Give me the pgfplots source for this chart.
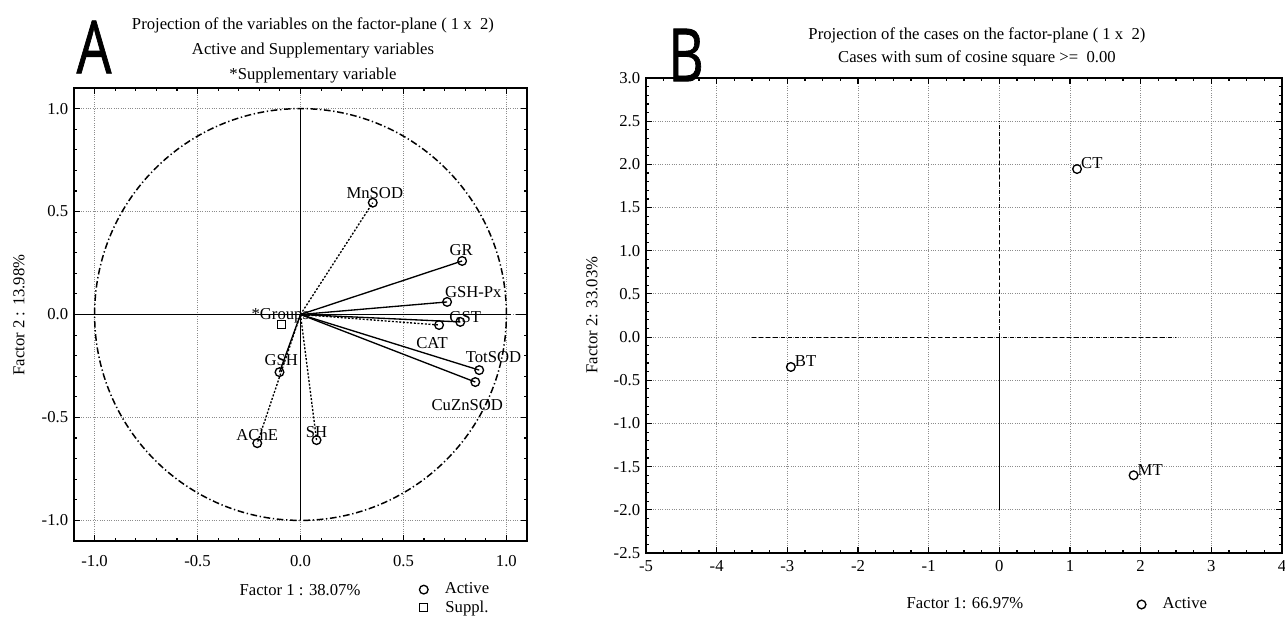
\documentclass[border=0pt]{standalone}
\usepackage{pgfplots}
\pgfplotsset{compat=1.18}
\usepackage{fontspec}
\setmainfont{Liberation Serif}
\newfontfamily\panelfont[FakeBold=1.2]{Open Sans}

\pgfplotsset{
  statbox/.style={
    scale only axis,
    axis line style={line width=1.1pt},
    tick align=inside,
    major tick length=3.5pt, minor tick length=2pt,
    tick style={black, line width=0.7pt},
    grid=major,
    major grid style={densely dotted, black!45, line width=0.5pt},
    tick label style={font=\fontsize{10}{12}\selectfont},
    /pgf/number format/assume math mode=true,
    clip=false,
    legend style={draw=none, fill=none, font=\fontsize{10}{12}\selectfont,
                  anchor=north west, row sep=0.5pt, inner sep=0pt,
                  nodes={inner sep=1pt}},
    legend image code/.code={%
      \path (0cm,0cm) (0.55cm,0cm);
      \draw[#1] plot coordinates {(0.15cm,0cm)};},
  },
  vec/.style={black, line width=0.8pt, forget plot},
  vecdot/.style={black, line width=0.8pt, dash pattern=on 1.2pt off 1pt, forget plot},
}

\begin{document}
\begin{tikzpicture}[x=0.6pt, y=0.6pt]
\path[use as bounding box] (0,0) rectangle (1285,618);

% ---------- panel A: variables ----------
\begin{axis}[statbox,
  at={(44.4pt,46.2pt)}, anchor=south west,
  width=271.8pt, height=271.8pt,
  xmin=-1.1, xmax=1.1, ymin=-1.1, ymax=1.1,
  xtick={-1,-0.5,0,0.5,1}, ytick={-1,-0.5,0,0.5,1},
  minor x tick num=4, minor y tick num=4,
  xticklabel style={yshift=-5pt, /pgf/number format/.cd, fixed, fixed zerofill, precision=1},
  yticklabel style={/pgf/number format/.cd, fixed, fixed zerofill, precision=1},
  legend style={at={(0.755,-0.088)}},
]
  % unit circle and the two axes through the origin
  \draw[black, line width=0.9pt, dash pattern=on 4pt off 1.6pt on 0.8pt off 1.6pt]
    (axis cs:0,0) ellipse [x radius=1, y radius=1];
  \addplot[vec] coordinates {(-1.1,0) (1,0)};
  \addplot[vec, dashed] coordinates {(1,0) (1.1,0)};
  \addplot[vec] coordinates {(0,-1) (0,1)};

  % loading vectors
  \addplot[vecdot] coordinates {(0,0) (0.351,0.543)};
  \addplot[vec]    coordinates {(0,0) (0.785,0.260)};
  \addplot[vec]    coordinates {(0,0) (0.712,0.061)};
  \addplot[vec]    coordinates {(0,0) (0.776,-0.036)};
  \addplot[vecdot] coordinates {(0,0) (0.673,-0.051)};
  \addplot[vec]    coordinates {(0,0) (0.868,-0.270)};
  \addplot[vec]    coordinates {(0,0) (0.849,-0.328)};
  \addplot[vec]    coordinates {(0,0) (-0.102,-0.280)};
  \addplot[vecdot] coordinates {(0,0) (-0.210,-0.625)};
  \addplot[vecdot] coordinates {(0,0) (0.078,-0.610)};

  \addplot[only marks, mark=o, mark size=2.6pt, mark options={line width=0.8pt}]
    coordinates {(0.351,0.543) (0.785,0.260) (0.712,0.061) (0.776,-0.036)
                 (0.673,-0.051) (0.868,-0.270) (0.849,-0.328) (-0.102,-0.280)
                 (-0.210,-0.625) (0.078,-0.610)};
  \addlegendentry{Active}
  \addplot[only marks, mark=square, mark size=2.4pt, mark options={line width=0.8pt}]
    coordinates {(-0.093,-0.050)};
  \addlegendentry{Suppl.}

  \begin{scope}[font=\fontsize{10}{12}\selectfont]
  \node at (axis cs:0.361,0.591) {MnSOD};
  \node at (axis cs:0.780,0.314) {GR};
  \node at (axis cs:0.839,0.109) {GSH-Px};
  \node at (axis cs:0.800,-0.012) {GST};
  \node at (axis cs:0.639,-0.139) {CAT};
  \node at (axis cs:0.937,-0.207) {TotSOD};
  \node at (axis cs:0.810,-0.440) {CuZnSOD};
  \node at (axis cs:-0.093,-0.221) {GSH};
  \node at (axis cs:-0.098,-0.007) {*Groups};
  \node at (axis cs:-0.210,-0.586) {AChE};
  \node at (axis cs:0.078,-0.572) {SH};
  \end{scope}
\end{axis}

% ---------- panel B: cases ----------
\begin{axis}[statbox,
  at={(387.6pt,39pt)}, anchor=south west,
  width=381.6pt, height=285pt,
  xmin=-5, xmax=4, ymin=-2.5, ymax=3,
  xtick={-5,-4,...,4}, ytick={-2.5,-2,...,3},
  minor x tick num=3, minor y tick num=4,
  xticklabel style={yshift=-1pt},
  yticklabel style={/pgf/number format/.cd, fixed, fixed zerofill, precision=1},
  legend style={at={(0.767,-0.09)}},
]
  \addplot[black, line width=0.7pt, dash pattern=on 2.5pt off 1.8pt, forget plot]
    coordinates {(-3.5,0) (2.5,0)};
  \addplot[black, line width=0.7pt, dash pattern=on 2.5pt off 1.8pt, forget plot]
    coordinates {(0,0) (0,2.5)};
  \addplot[black, line width=0.8pt, forget plot] coordinates {(0,0) (0,-2)};

  \addplot[only marks, mark=o, mark size=2.6pt, mark options={line width=0.8pt}]
    coordinates {(1.10,1.946) (-2.95,-0.346) (1.90,-1.60)};
  \addlegendentry{Active}

  \begin{scope}[font=\fontsize{10}{12}\selectfont, anchor=south west, inner sep=1pt]
  \node at (axis cs:1.13,1.93) {CT};
  \node at (axis cs:-2.92,-0.36) {BT};
  \node at (axis cs:1.93,-1.62) {MT};
  \end{scope}
\end{axis}

% ---------- titles, labels, panel letters ----------
\begin{scope}[font=\fontsize{10}{12}\selectfont]
  \node[anchor=base] at (313,588) {Projection of the variables on the factor-plane ( 1 x\ \ 2)};
  \node[anchor=base] at (313,563) {Active and Supplementary variables};
  \node[anchor=base] at (313,538) {*Supplementary variable};
  \node[anchor=base] at (977,578) {Projection of the cases on the factor-plane ( 1 x\ \ 2)};
  \node[anchor=base] at (977,555) {Cases with sum of cosine square >=\ \ 0.00};

  \node at (300,28) {Factor 1 : 38.07\%};
  \node[rotate=90] at (19,303) {Factor 2 : 13.98\%};
  \node at (965,15) {Factor 1: 66.97\%};
  \node[rotate=90] at (592,303) {Factor 2: 33.03\%};
\end{scope}
\node[font=\panelfont\fontsize{44}{44}\selectfont] at (94,571) {\scalebox{0.75}[1]{A}};
\node[font=\panelfont\fontsize{44}{44}\selectfont] at (686,563) {\scalebox{0.75}[1]{B}};
\end{tikzpicture}
\end{document}
